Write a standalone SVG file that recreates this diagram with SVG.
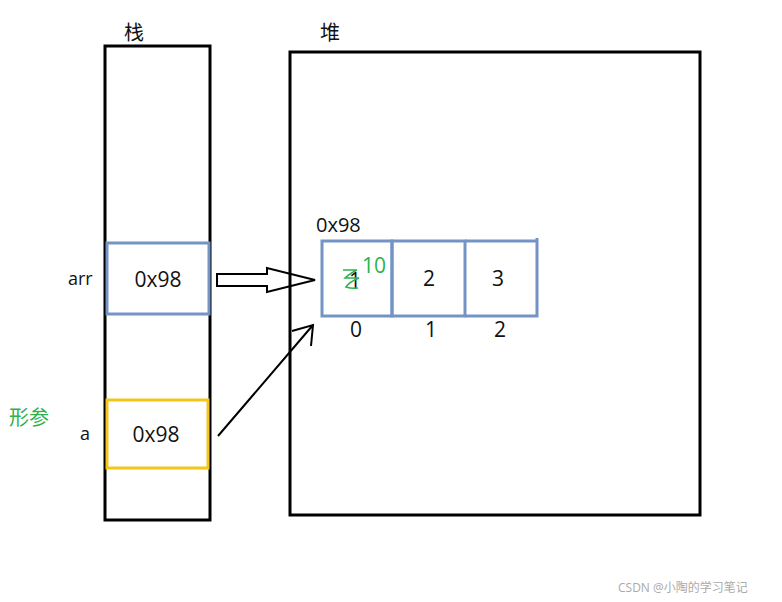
<svg xmlns="http://www.w3.org/2000/svg" width="782" height="602" viewBox="0 0 782 602">
<style>
text{font-family:"Open Sans","Noto Sans CJK SC",sans-serif;fill:#111}
.box{fill:none;stroke:#000;stroke-width:3}
.cell{fill:none;stroke:#7394c4;stroke-width:3}
.g{fill:#2db24c}
</style>
<rect width="782" height="602" fill="#fff"/>
<g id="stack"><rect class="box" x="105" y="46" width="105" height="474"/><text x="124" y="40" font-size="20">栈</text></g>
<g id="heap"><rect class="box" x="290" y="52" width="410" height="463"/><text x="320" y="40" font-size="20">堆</text></g>
<g id="arr"><rect class="cell" x="107" y="243" width="102" height="71"/><text x="158" y="287" font-size="21" text-anchor="middle">0x98</text><text x="68" y="285" font-size="18">arr</text></g>
<g id="a"><rect x="107" y="400" width="101" height="68" fill="none" stroke="#f5c518" stroke-width="3"/><text x="156" y="442" font-size="21" text-anchor="middle">0x98</text><text x="80" y="440" font-size="18">a</text><text x="9" y="425" font-size="20" class="g">形参</text></g>
<g id="array">
<text x="316" y="232" font-size="20">0x98</text>
<rect class="cell" x="322" y="241" width="70" height="75"/>
<rect class="cell" x="392" y="241" width="73" height="75"/>
<path class="cell" d="M465 241H537V316H465M537 316V238"/>
<text x="355" y="288" font-size="21" text-anchor="middle">1</text>
<path d="M343 270h14q-8 4-12 8h14q-10 4-13 9q6 2 12 1" fill="none" stroke="#2db24c" stroke-width="1.5"/>
<text x="362" y="273" font-size="21" class="g">10</text>
<text x="429" y="286" font-size="21" text-anchor="middle">2</text>
<text x="498" y="286" font-size="21" text-anchor="middle">3</text>
<text x="356" y="337" font-size="21" text-anchor="middle">0</text>
<text x="431" y="337" font-size="21" text-anchor="middle">1</text>
<text x="500" y="337" font-size="21" text-anchor="middle">2</text>
</g>
<g id="connectors" fill="none" stroke="#000" stroke-width="2">
<path d="M217 274H267V268L315 280L267 292V286H217Z"/>
<path d="M218 436L313 325M292 331L313 325L311 346"/>
</g>
<text x="618" y="592" font-size="12" style="fill:#aaa">CSDN @小陶的学习笔记</text>
</svg>
